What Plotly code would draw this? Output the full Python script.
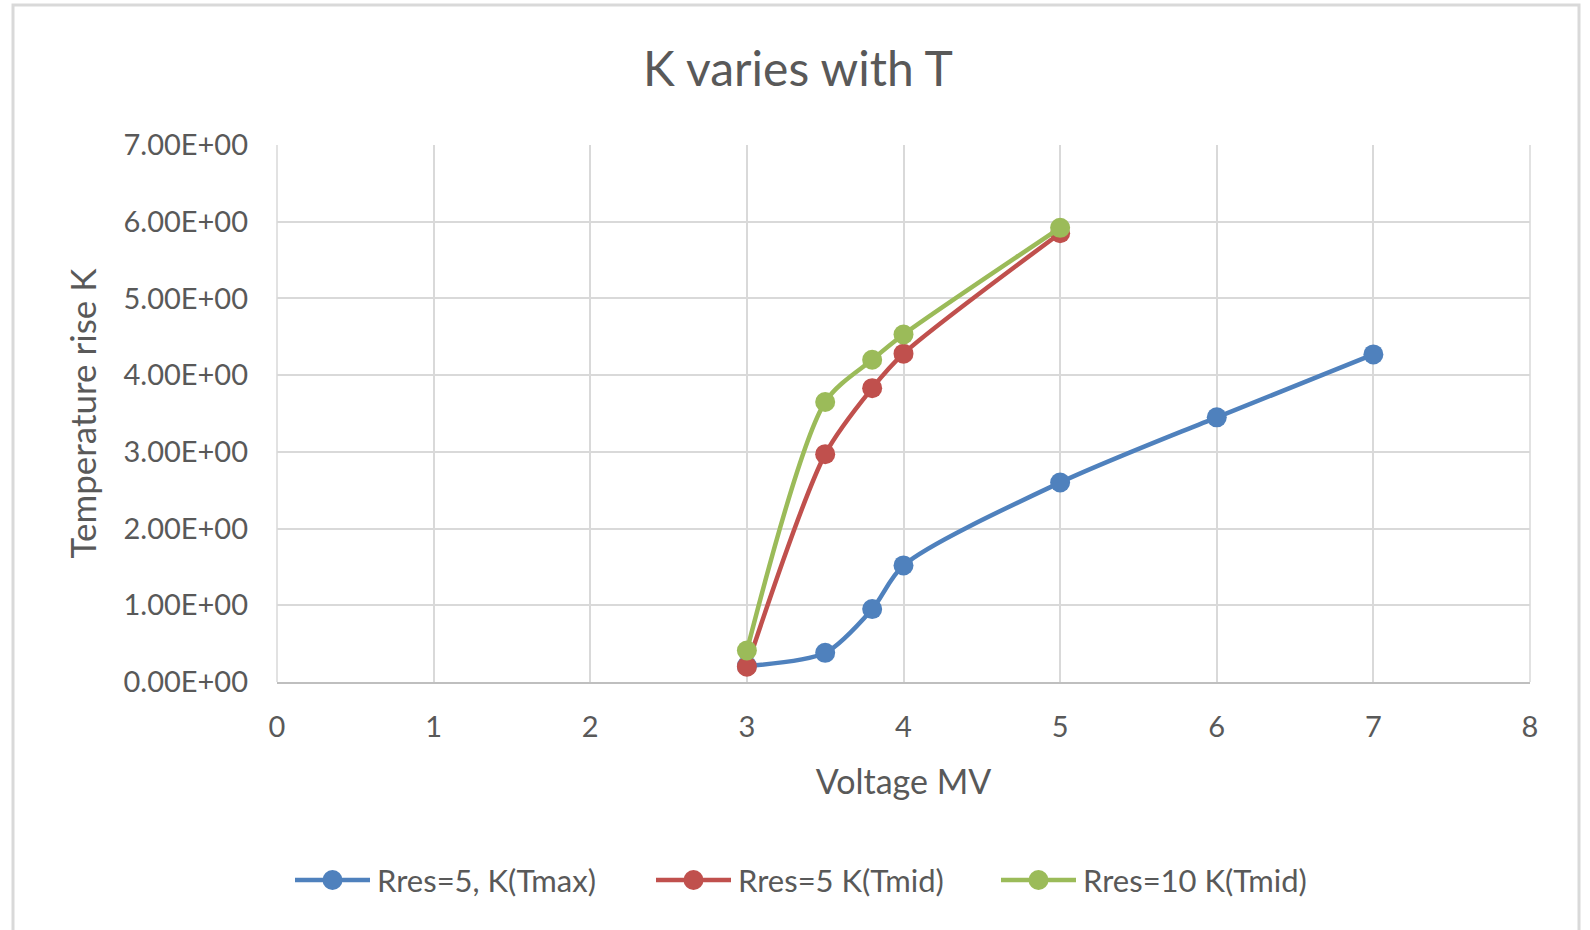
import plotly.graph_objects as go

# ---- data ----
x_tmax = [3, 3.5, 3.8, 4, 5, 6, 7]
k_tmax_r5 = [0.21, 0.38, 0.95, 1.52, 2.60, 3.45, 4.27]

x_tmid = [3, 3.5, 3.8, 4, 5]
k_tmid_r5 = [0.20, 2.97, 3.83, 4.28, 5.85]
k_tmid_r10 = [0.41, 3.65, 4.20, 4.53, 5.92]

series_names = ["Rres=5, K(Tmax)", "Rres=5 K(Tmid)", "Rres=10 K(Tmid)"]
colors = ["#4F81BD", "#C0504D", "#9BBB59"]

x_ticks = [0, 1, 2, 3, 4, 5, 6, 7, 8]
y_ticks = [0, 1, 2, 3, 4, 5, 6, 7]
y_ticktext = [f"{v:.2E}" for v in y_ticks]

title_text = "K varies with T"
x_title = "Voltage MV"
y_title = "Temperature rise K"

FONT = "Lato"
GREY = "#595959"
MSIZE = 20

fig = go.Figure()
for xs, ys, name, c in [
    (x_tmax, k_tmax_r5, series_names[0], colors[0]),
    (x_tmid, k_tmid_r5, series_names[1], colors[1]),
    (x_tmid, k_tmid_r10, series_names[2], colors[2]),
]:
    fig.add_trace(go.Scatter(
        x=xs, y=ys, name=name, mode="lines+markers", showlegend=False,
        line=dict(color=c, width=4.5, shape="spline", smoothing=0.8),
        marker=dict(color=c, size=MSIZE),
    ))

# plot-area pixel geometry
L, R, T, B = 277, 1530, 145, 682
W, H = R - L, B - T
def px_x(p):
    return (p - L) / W
def px_y(p):
    return (B - p) / H

# outer chart border
fig.add_shape(type="rect", xref="paper", yref="paper",
              x0=px_x(13), x1=px_x(1579), y0=px_y(940), y1=px_y(5),
              line=dict(color="#D9D9D9", width=3), fillcolor="rgba(0,0,0,0)", layer="below")

# custom legend (Excel style: long line with marker in the middle)
legend_y = 880
legend_line_starts = [295, 656, 1001]
for name, c, x0 in zip(series_names, colors, legend_line_starts):
    x1 = x0 + 75
    xm = (x0 + x1) / 2
    fig.add_shape(type="line", xref="paper", yref="paper",
                  x0=px_x(x0), x1=px_x(x1), y0=px_y(legend_y), y1=px_y(legend_y),
                  line=dict(color=c, width=4.5))
    fig.add_shape(type="circle", xref="paper", yref="paper",
                  xsizemode="pixel", ysizemode="pixel",
                  xanchor=px_x(xm), yanchor=px_y(legend_y),
                  x0=-MSIZE / 2, x1=MSIZE / 2, y0=-MSIZE / 2, y1=MSIZE / 2,
                  fillcolor=c, line=dict(color=c, width=0))
    fig.add_annotation(xref="paper", yref="paper", x=px_x(x1 + 5), y=px_y(legend_y),
                       xanchor="left", yanchor="middle", showarrow=False, text=name,
                       font=dict(size=31, color=GREY, family=FONT))

fig.update_layout(
    width=1590, height=930,
    margin=dict(l=L, r=1590 - R, t=T, b=930 - B),
    paper_bgcolor="white", plot_bgcolor="white",
    font=dict(family=FONT, color=GREY, size=29),
    title=dict(text=title_text, x=798 / 1590, xanchor="center", y=1 - 69 / 930, yanchor="middle",
               font=dict(size=48, color=GREY, family=FONT)),
    showlegend=False,
    xaxis=dict(range=[0, 8], tickvals=x_ticks, showgrid=True, gridcolor="#D9D9D9", gridwidth=1.5,
               zeroline=False, showline=True, linecolor="#BFBFBF", linewidth=1.5, mirror=False,
               ticks="", ticklabelstandoff=18,
               title=dict(text=x_title, font=dict(size=34, color=GREY, family=FONT), standoff=29)),
    yaxis=dict(range=[0, 7], tickvals=y_ticks, ticktext=y_ticktext, showgrid=True, gridcolor="#D9D9D9",
               gridwidth=1.5, zeroline=False, showline=False, ticks="", ticklabelstandoff=28,
               title=dict(text=y_title, font=dict(size=35, color=GREY, family=FONT), standoff=16)),
)
fig.add_shape(type="line", xref="paper", yref="paper", x0=0, x1=0, y0=0, y1=1,
              line=dict(color="#D9D9D9", width=1.5), layer="below")
fig.add_shape(type="line", xref="paper", yref="paper", x0=1, x1=1, y0=0, y1=1,
              line=dict(color="#D9D9D9", width=1.5), layer="below")

fig.write_html("out.html")
